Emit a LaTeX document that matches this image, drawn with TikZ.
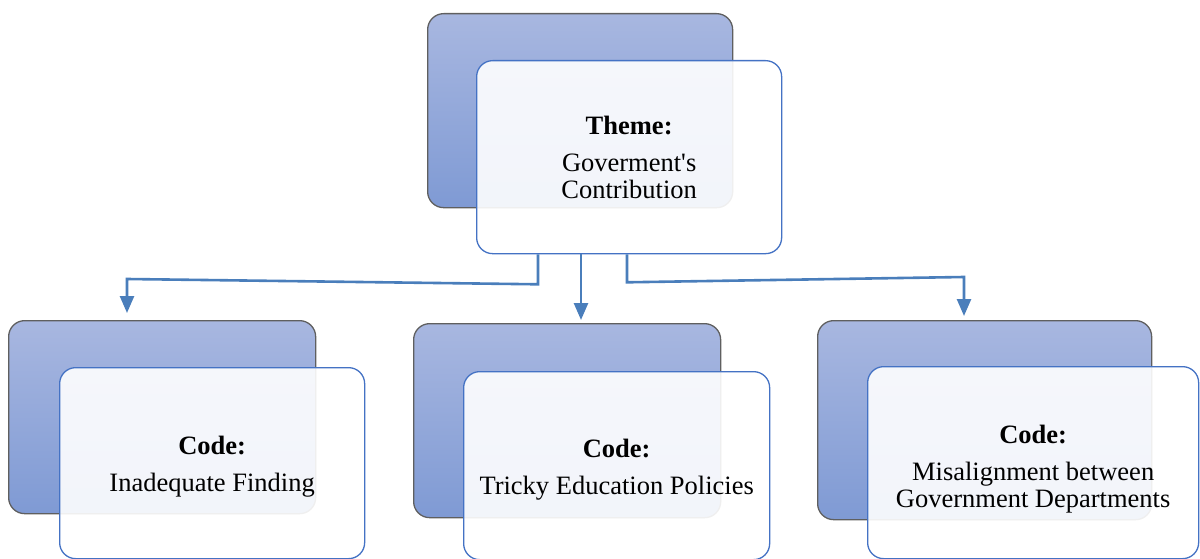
\documentclass[tikz,border=0pt]{standalone}
\usepackage{fontspec}
\setmainfont{Liberation Serif}
\usetikzlibrary{arrows.meta}
\definecolor{cardblue}{HTML}{4472C4}
\definecolor{linkblue}{HTML}{4A7EBB}
\definecolor{backtop}{HTML}{A8B7E0}
\definecolor{backbot}{HTML}{7F9AD4}
\definecolor{backedge}{HTML}{5F5F5F}
\tikzset{
  backcard/.style={draw=backedge, line width=1.3pt, rounded corners=16pt,
    top color=backtop, bottom color=backbot, anchor=north west, inner sep=0pt},
  frontcard/.style={draw=cardblue, line width=1.3pt, rounded corners=16pt,
    fill=white, fill opacity=0.9, anchor=north west, inner sep=0pt},
  cardtext/.style={align=center, inner sep=0pt, font=\fontsize{26.5}{27}\selectfont},
  link/.style={draw=linkblue, line width=2.6pt},
  linkarrow/.style={link, -{Triangle[length=17pt,width=14pt]}},
}
\begin{document}
\begin{tikzpicture}[x=1pt,y=-1pt]
\useasboundingbox (0,0) rectangle (1200,559);

% theme card
\node[backcard, minimum width=305pt, minimum height=194pt] (tb) at (427,13) {};
\node[frontcard, minimum width=305pt, minimum height=193pt] (tf) at (476,60) {};
\node[cardtext] (tt) at ([yshift=0pt]tf.center)
  {\textbf{Theme:}\\[10pt]Goverment\textquotesingle s\\Contribution};

% code cards
\node[backcard, minimum width=307pt, minimum height=193pt] (lb) at (8,320) {};
\node[frontcard, minimum width=305pt, minimum height=191pt] (lf) at (59,367) {};
\node[cardtext] (lt) at ([yshift=-4pt]lf.center)
  {\textbf{Code:}\\[10pt]Inadequate Finding};

\node[backcard, minimum width=307pt, minimum height=194pt] (mb) at (413,323) {};
\node[frontcard, minimum width=306pt, minimum height=188pt] (mf) at (463,371) {};
\node[cardtext] (mt) at ([yshift=-4pt]mf.center)
  {\textbf{Code:}\\[10pt]Tricky Education Policies};

\node[backcard, minimum width=334pt, minimum height=199pt] (rb) at (817,320) {};
\node[frontcard, minimum width=331pt, minimum height=192pt] (rf) at (867,366) {};
\node[cardtext] (rt) at ([yshift=-6pt]rf.center)
  {\textbf{Code:}\\[10pt]Misalignment between\\Government Departments};

% connectors
\coordinate (lstart) at ([xshift=62pt]tf.south west);
\coordinate (mstart) at ([xshift=105pt]tf.south west);
\coordinate (rstart) at ([xshift=151pt]tf.south west);
\coordinate (lbend) at (127,279);
\coordinate (rbend) at (964,277);
\draw[linkarrow, shorten >=7pt] (lstart) -- ++(0,30) -- (lbend) -- (lbend |- lb.north);
\draw[linkarrow, shorten >=3pt] (mstart) -- (mstart |- mb.north);
\draw[linkarrow, shorten >=4pt] (rstart) -- ++(0,28) -- (rbend) -- (rbend |- rb.north);
\end{tikzpicture}
\end{document}
